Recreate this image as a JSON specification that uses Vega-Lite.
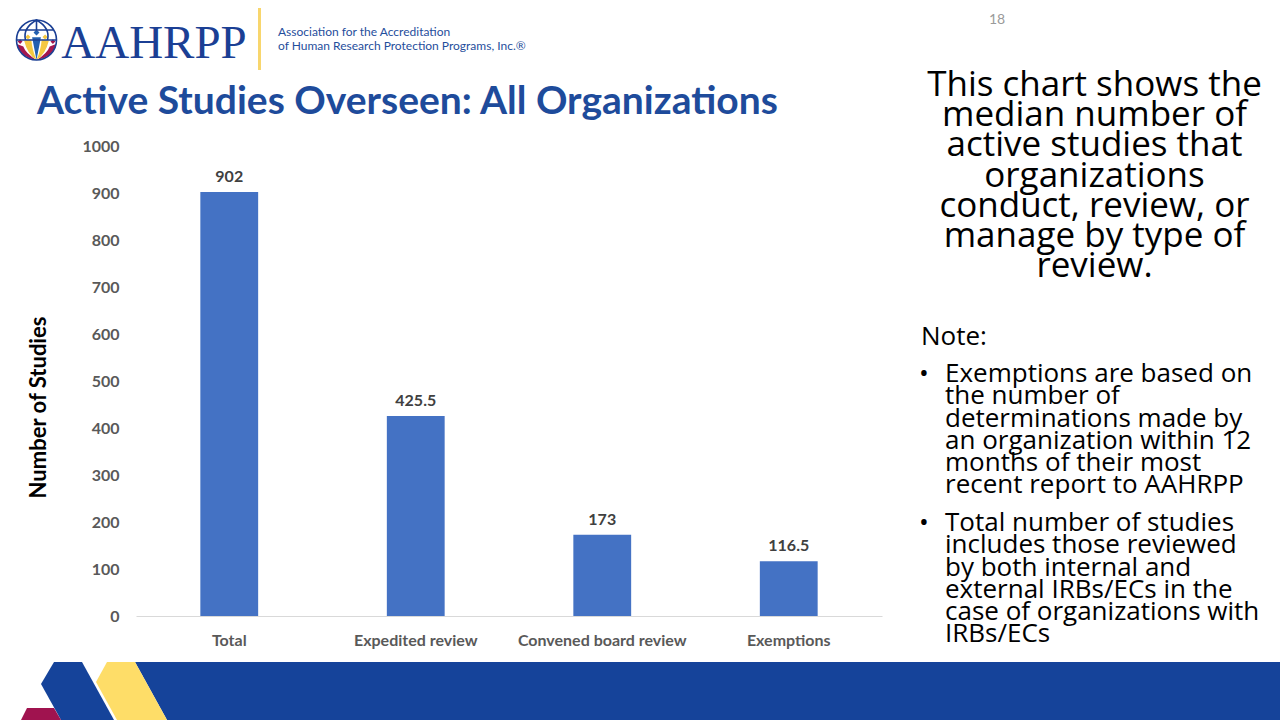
{
  "$schema": "https://vega.github.io/schema/vega-lite/v6.json",
  "padding": 0,
  "background": "white",
  "spacing": 0,
  "config": {"view": {"stroke": null}, "concat": {"spacing": 0}},
  "vconcat": [
    {
      "spacing": 0,
      "hconcat": [
        {
          "spacing": 0,
          "vconcat": [
            {
              "spacing": 0,
              "hconcat": [
                {"width": 13, "height": 80, "data": {"values": []}, "mark": "point"},
                {
                  "width": 39, "height": 80,
                  "data": {"values": [{"part": "globe"}]},
                  "layer": [
                    {"mark": {"type": "point", "filled": true, "opacity": 1, "strokeWidth": 0, "color": "#a3174f", "size": 1600,
                      "shape": "M-0.98,0.2 Q-0.85,0.85 0,1 Q-0.55,0.65 -0.66,0.32 Z M0.98,0.2 Q0.85,0.85 0,1 Q0.55,0.65 0.66,0.32 Z M-0.82,-0.04 L-0.7,0.08 L-0.82,0.2 L-0.94,0.08 Z M0.82,-0.04 L0.94,0.08 L0.82,0.2 L0.7,0.08 Z"}},
                    {"mark": {"type": "point", "filled": true, "opacity": 1, "strokeWidth": 0, "color": "#f5c842", "size": 1600,
                      "shape": "M-0.62,0.02 Q-0.45,0.72 0,1 Q-0.22,0.5 -0.26,-0.02 Z M0.62,0.02 Q0.45,0.72 0,1 Q0.22,0.5 0.26,-0.02 Z M-0.43,-0.28 L-0.3,-0.15 L-0.43,-0.02 L-0.56,-0.15 Z M0.43,-0.28 L0.56,-0.15 L0.43,-0.02 L0.3,-0.15 Z"}},
                    {"mark": {"type": "point", "filled": true, "opacity": 1, "strokeWidth": 0, "color": "#2360b0", "size": 1600,
                      "shape": "M-0.22,-0.14 L0.22,-0.14 L0,1 Z M0,-0.53 L0.15,-0.38 L0,-0.23 L-0.15,-0.38 Z"}},
                    {"mark": {"type": "point", "filled": false, "opacity": 1, "strokeWidth": 1.6, "color": "#1b3f94", "size": 1600,
                      "shape": "M-1,0 C-1,-0.552 -0.552,-1 0,-1 C0.552,-1 1,-0.552 1,0 C1,0.552 0.552,1 0,1 C-0.552,1 -1,0.552 -1,0 Z M-1,0 L1,0 M-0.87,-0.5 L0.87,-0.5 M0,-1 L0,-0.5 M0,-1 Q-0.7,-0.6 -0.55,0 M0,-1 Q0.7,-0.6 0.55,0"}}
                  ]
                },
                {
                  "width": 188, "height": 80,
                  "data": {"values": [{"text": "AAHRPP"}]},
                  "mark": {"type": "text", "align": "center", "baseline": "middle", "dy": 4, "font": "Liberation Serif", "fontSize": 47, "color": "#1b3f94"},
                  "encoding": {"text": {"field": "text", "type": "nominal"}}
                },
                {"width": 10, "height": 80, "data": {"values": []}, "mark": "point"},
                {
                  "spacing": 0,
                  "vconcat": [
                    {"width": 3, "height": 8, "data": {"values": []}, "mark": "point"},
                    {"width": 3, "height": 62, "view": {"fill": "#f8d66d", "stroke": null}, "data": {"values": []}, "mark": "point"}
                  ]
                },
                {"width": 16, "height": 80, "data": {"values": []}, "mark": "point"},
                {
                  "spacing": 0,
                  "vconcat": [
                    {"width": 2, "height": 25, "data": {"values": []}, "mark": "point"},
                    {
                      "width": 2, "height": 28,
                      "data": {"values": [
                        {"line": 1, "text": "Association for the Accreditation"},
                        {"line": 2, "text": "of Human Research Protection Programs, Inc.®"}
                      ]},
                      "mark": {"type": "text", "align": "left", "baseline": "middle", "font": "Lato", "fontSize": 12, "color": "#1f4e9c"},
                      "encoding": {
                        "y": {"field": "line", "type": "ordinal", "axis": null, "scale": {"type": "band", "paddingInner": 0, "paddingOuter": 0}},
                        "text": {"field": "text", "type": "nominal"}
                      }
                    }
                  ]
                }
              ]
            },
            {
              "spacing": 0,
              "hconcat": [
                {"width": 36, "height": 58, "data": {"values": []}, "mark": "point"},
                {
                  "width": 2, "height": 44,
                  "data": {"values": [{"text": "Active Studies Overseen: All Organizations"}]},
                  "mark": {"type": "text", "align": "left", "baseline": "middle", "font": "Lato", "fontSize": 39, "fontWeight": "bold", "color": "#1e4b9b"},
                  "encoding": {"text": {"field": "text", "type": "nominal"}}
                }
              ]
            },
            {
              "spacing": 0,
              "hconcat": [
                {"width": 27, "height": 470, "data": {"values": []}, "mark": "point"},
                {
                  "width": 746, "height": 470,
                  "data": {"values": [
                    {"type": "Total", "value": 902},
                    {"type": "Expedited review", "value": 425.5},
                    {"type": "Convened board review", "value": 173},
                    {"type": "Exemptions", "value": 116.5}
                  ]},
                  "encoding": {
                    "x": {"field": "type", "type": "nominal", "sort": null,
                      "scale": {"paddingInner": 0.69, "paddingOuter": 0.345},
                      "axis": {"title": null, "labelAngle": 0, "ticks": false, "domainColor": "#d9d9d9", "domainWidth": 1,
                        "labelFont": "Lato", "labelFontSize": 16, "labelFontWeight": "bold", "labelColor": "#595959", "labelPadding": 16}},
                    "y": {"field": "value", "type": "quantitative",
                      "scale": {"domain": [0, 1000], "nice": false},
                      "axis": {"title": "Number of Studies", "values": [0, 100, 200, 300, 400, 500, 600, 700, 800, 900, 1000], "format": "d",
                        "domain": false, "ticks": false, "grid": false,
                        "labelFont": "Lato", "labelFontSize": 16, "labelFontWeight": "bold", "labelColor": "#595959", "labelPadding": 17,
                        "titleFont": "Lato", "titleFontSize": 22, "titleFontWeight": "bold", "titleColor": "#000000", "titlePadding": 31, "titleY": 261}}
                  },
                  "layer": [
                    {"mark": {"type": "bar", "color": "#4472c4"}},
                    {"mark": {"type": "text", "baseline": "alphabetic", "dy": -10, "font": "Lato", "fontSize": 16, "fontWeight": "bold", "color": "#404040"},
                      "encoding": {"text": {"field": "value", "type": "quantitative"}}}
                  ]
                }
              ]
            },
            {"width": 1, "height": 8, "data": {"values": []}, "mark": "point"}
          ]
        },
        {
          "spacing": 0,
          "vconcat": [
            {
              "spacing": 0,
              "hconcat": [
                {"width": 103, "height": 40, "data": {"values": []}, "mark": "point"},
                {
                  "width": 24, "height": 40,
                  "data": {"values": [{"text": "18"}]},
                  "mark": {"type": "text", "align": "center", "baseline": "middle", "font": "Lato", "fontSize": 14, "color": "#9a9a9a"},
                  "encoding": {"text": {"field": "text", "type": "nominal"}}
                }
              ]
            },
            {"width": 1, "height": 27.5, "data": {"values": []}, "mark": "point"},
            {
              "spacing": 0,
              "hconcat": [
                {"width": 27, "height": 211.2, "data": {"values": []}, "mark": "point"},
                {
                  "width": 371, "height": 211.2,
                  "data": {"values": [
                    {"line": 1, "text": "This chart shows the"},
                    {"line": 2, "text": "median number of"},
                    {"line": 3, "text": "active studies that"},
                    {"line": 4, "text": "organizations"},
                    {"line": 5, "text": "conduct, review, or"},
                    {"line": 6, "text": "manage by type of"},
                    {"line": 7, "text": "review."}
                  ]},
                  "mark": {"type": "text", "align": "center", "baseline": "middle", "font": "Open Sans", "fontSize": 35, "color": "#000000"},
                  "encoding": {
                    "y": {"field": "line", "type": "ordinal", "axis": null, "scale": {"type": "band", "paddingInner": 0, "paddingOuter": 0}},
                    "text": {"field": "text", "type": "nominal"}
                  }
                }
              ]
            },
            {"width": 1, "height": 27.5, "data": {"values": []}, "mark": "point"},
            {
              "spacing": 0,
              "hconcat": [
                {"width": 38, "height": 48, "data": {"values": []}, "mark": "point"},
                {
                  "width": 2, "height": 48,
                  "data": {"values": [{"text": "Note:"}]},
                  "mark": {"type": "text", "align": "left", "baseline": "middle", "font": "Open Sans", "fontSize": 26, "color": "#000000"},
                  "encoding": {"text": {"field": "text", "type": "nominal"}}
                }
              ]
            },
            {
              "spacing": 0,
              "hconcat": [
                {"width": 36, "height": 133.2, "data": {"values": []}, "mark": "point"},
                {
                  "width": 12, "height": 22.2,
                  "data": {"values": [{"text": "•"}]},
                  "mark": {"type": "text", "align": "center", "baseline": "middle", "font": "Open Sans", "fontSize": 26, "color": "#000000"},
                  "encoding": {"text": {"field": "text", "type": "nominal"}}
                },
                {"width": 14, "height": 10, "data": {"values": []}, "mark": "point"},
                {
                  "width": 2, "height": 133.2,
                  "data": {"values": [
                    {"line": 1, "text": "Exemptions are based on"},
                    {"line": 2, "text": "the number of"},
                    {"line": 3, "text": "determinations made by"},
                    {"line": 4, "text": "an organization within 12"},
                    {"line": 5, "text": "months of their most"},
                    {"line": 6, "text": "recent report to AAHRPP"}
                  ]},
                  "mark": {"type": "text", "align": "left", "baseline": "middle", "font": "Open Sans", "fontSize": 26, "color": "#000000"},
                  "encoding": {
                    "y": {"field": "line", "type": "ordinal", "axis": null, "scale": {"type": "band", "paddingInner": 0, "paddingOuter": 0}},
                    "text": {"field": "text", "type": "nominal"}
                  }
                }
              ]
            },
            {"width": 1, "height": 10.9, "data": {"values": []}, "mark": "point"},
            {
              "spacing": 0,
              "hconcat": [
                {"width": 36, "height": 133.2, "data": {"values": []}, "mark": "point"},
                {
                  "width": 12, "height": 22.2,
                  "data": {"values": [{"text": "•"}]},
                  "mark": {"type": "text", "align": "center", "baseline": "middle", "font": "Open Sans", "fontSize": 26, "color": "#000000"},
                  "encoding": {"text": {"field": "text", "type": "nominal"}}
                },
                {"width": 14, "height": 10, "data": {"values": []}, "mark": "point"},
                {
                  "width": 2, "height": 133.2,
                  "data": {"values": [
                    {"line": 1, "text": "Total number of studies"},
                    {"line": 2, "text": "includes those reviewed"},
                    {"line": 3, "text": "by both internal and"},
                    {"line": 4, "text": "external IRBs/ECs in the"},
                    {"line": 5, "text": "case of organizations with"},
                    {"line": 6, "text": "IRBs/ECs"}
                  ]},
                  "mark": {"type": "text", "align": "left", "baseline": "middle", "font": "Open Sans", "fontSize": 26, "color": "#000000"},
                  "encoding": {
                    "y": {"field": "line", "type": "ordinal", "axis": null, "scale": {"type": "band", "paddingInner": 0, "paddingOuter": 0}},
                    "text": {"field": "text", "type": "nominal"}
                  }
                }
              ]
            },
            {"width": 1, "height": 14, "data": {"values": []}, "mark": "point"}
          ]
        }
      ]
    },
    {
      "width": 1280, "height": 58,
      "data": {"values": [{"part": "footer"}]},
      "layer": [
        {"mark": {"type": "point", "filled": true, "opacity": 1, "strokeWidth": 0, "color": "#15439a", "size": 40000,
          "shape": "M-5.05,-0.29 L6.4,-0.29 L6.4,0.29 L-4.73,0.29 Z"}},
        {"mark": {"type": "point", "filled": true, "opacity": 1, "strokeWidth": 0, "color": "#fedd68", "size": 40000,
          "shape": "M-5.33,-0.29 L-5.05,-0.29 L-4.73,0.29 L-5.23,0.29 L-5.44,-0.09 Z"}},
        {"mark": {"type": "point", "filled": true, "opacity": 1, "strokeWidth": 0, "color": "#15439a", "size": 40000,
          "shape": "M-5.86,-0.29 L-5.58,-0.29 L-5.26,0.29 L-5.79,0.29 L-5.99,-0.07 Z"}},
        {"mark": {"type": "point", "filled": true, "opacity": 1, "strokeWidth": 0, "color": "#a0134f", "size": 40000,
          "shape": "M-6.13,0.17 L-5.86,0.17 L-5.79,0.29 L-6.19,0.29 Z"}}
      ]
    }
  ]
}
